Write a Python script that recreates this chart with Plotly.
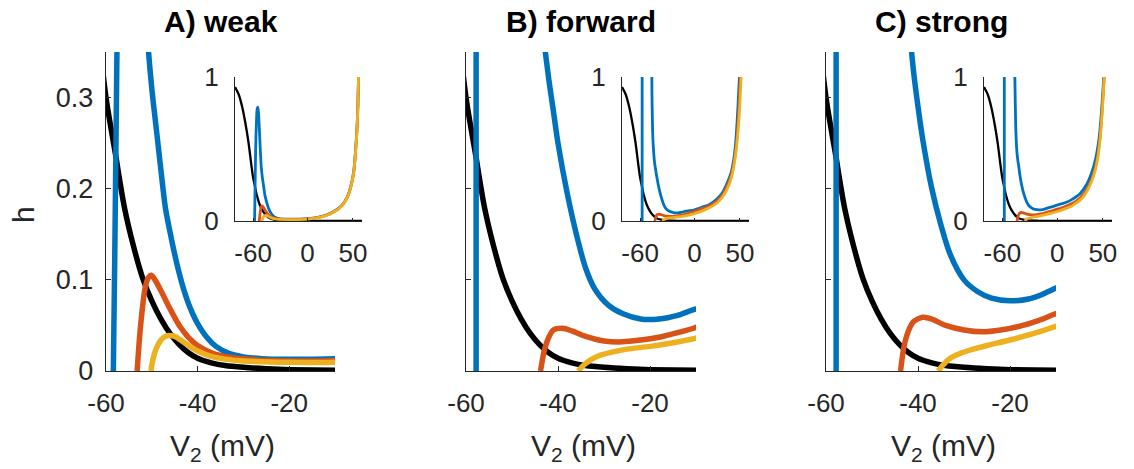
import plotly.graph_objects as go

# ---------------- data ----------------
# black curve (same in all panels)
V_black = [-80, -76, -72, -68, -65, -62, -60, -58, -56, -54, -52, -50, -48, -46, -44, -42,
           -40, -37, -34, -30, -25, -20, -10, 0, 20, 40, 60]
H_black = [0.93, 0.88, 0.79, 0.66, 0.54, 0.39, 0.300, 0.240, 0.180, 0.137, 0.102, 0.077,
           0.057, 0.041, 0.029, 0.020, 0.014, 0.009, 0.006, 0.004, 0.0025, 0.0015, 0.0008,
           0.0005, 0.0002, 0.0001, 0.0]

# Panel A (weak)
VA_blue = [-58.4, -58.1, -57.8, -57.5, -57.0, -56.3, -55.5, -54.8, -54.0, -53.0, -52.0, -51.0,
           -50.0, -49.0, -48.0, -47.0, -46.0, -45.0, -44.0, -43.0, -42.0, -41.0, -40.0, -38.0,
           -36.0, -33.0, -30.0, -26.0, -20.0, -15.0, -10.0, 0, 10, 20, 30, 38, 44, 48, 51, 53,
           54.5, 55.5, 56.2]
HA_blue = [0.0, 0.12, 0.26, 0.40, 0.56, 0.70, 0.78, 0.79, 0.74, 0.62, 0.48, 0.37,
           0.31, 0.265, 0.22, 0.178, 0.152, 0.128, 0.107, 0.089, 0.074, 0.062, 0.052, 0.037,
           0.027, 0.019, 0.0155, 0.0135, 0.0128, 0.013, 0.0135, 0.016, 0.024, 0.040, 0.070,
           0.110, 0.170, 0.250, 0.350, 0.500, 0.650, 0.820, 1.0]
VA_red = [-53.2, -52.7, -52.2, -51.5, -50.8, -50.1, -49.3, -48.0, -46.0, -44.0, -42.0, -40.0,
          -37.0, -33.0, -28.0, -20.0, -10.0, 0, 10, 20, 30, 38, 44, 48, 51, 53, 54.5,
          55.5, 56.2]
HA_red = [0.0, 0.035, 0.062, 0.090, 0.102, 0.105, 0.100, 0.088, 0.068, 0.050, 0.037, 0.028,
          0.020, 0.015, 0.0125, 0.011, 0.0115, 0.015, 0.023, 0.039, 0.068, 0.108, 0.168,
          0.245, 0.345, 0.49, 0.64, 0.81, 1.0]
VA_yel = [-50.2, -49.7, -49.0, -48.0, -47.0, -46.3, -45.0, -44.0, -42.0, -40.0, -37.0, -34.0,
          -30.0, -20.0, -10.0, 0, 10, 20, 30, 38, 44, 48, 51, 53, 54.5, 55.5, 56.2]
HA_yel = [0.0, 0.014, 0.025, 0.034, 0.038, 0.039, 0.038, 0.035, 0.028, 0.022, 0.016, 0.013,
          0.011, 0.0095, 0.0095, 0.013, 0.021, 0.037, 0.066, 0.106, 0.166, 0.243, 0.343,
          0.488, 0.638, 0.808, 1.0]

# Panel B (forward)
VB_blue_left = [-57.8, -57.8]
HB_blue_left = [0.0, 1.5]
VB_blue = [-47.3, -47.0, -46.5, -46.0, -45.0, -44.0, -43.0, -42.0, -41.0, -40.0, -38.0, -36.0,
           -34.0, -32.0, -29.0, -26.0, -22.0, -18.0, -14.0, -10.0, -5, 0, 5, 10, 15, 20, 25,
           30, 35, 40, 43, 45, 47, 48.5, 49.5]
HB_blue = [1.2, 0.90, 0.70, 0.58, 0.47, 0.40, 0.36, 0.32, 0.285, 0.25, 0.195, 0.15,
           0.113, 0.090, 0.072, 0.063, 0.057, 0.057, 0.061, 0.068, 0.072, 0.078, 0.088, 0.10,
           0.11, 0.13, 0.155, 0.19, 0.25, 0.33, 0.42, 0.52, 0.70, 0.88, 1.0]
VB_red = [-43.8, -43.0, -42.0, -41.0, -39.0, -37.0, -34.0, -30.0, -26.0, -22.0, -18.0, -14.0,
          -10.0, -5, 0, 5, 10, 15, 20, 25, 30, 35, 40, 43, 45, 47, 49, 50.5]
HB_red = [0.0, 0.022, 0.037, 0.045, 0.047, 0.044, 0.038, 0.033, 0.032, 0.034, 0.037, 0.042,
          0.048, 0.058, 0.068, 0.078, 0.090, 0.100, 0.118, 0.140, 0.175, 0.23, 0.31, 0.39,
          0.47, 0.60, 0.80, 1.0]
VB_yel = [-35.6, -34.5, -33.0, -31.0, -28.0, -25.0, -20.0, -15.0, -10.0, -5, 0, 5, 10, 15,
          20, 25, 30, 35, 40, 43, 46, 48, 50, 51.3]
HB_yel = [0.0, 0.006, 0.012, 0.017, 0.021, 0.024, 0.027, 0.031, 0.036, 0.043, 0.052, 0.062,
          0.074, 0.088, 0.105, 0.127, 0.16, 0.21, 0.29, 0.37, 0.50, 0.63, 0.82, 1.0]

# Panel C (strong)
VC_blue_left = [-57.8, -57.8]
HC_blue_left = [0.0, 1.5]
VC_blue = [-46.5, -46.0, -45.5, -45.0, -44.0, -43.0, -42.0, -41.0, -40.0, -39.0, -37.0, -35.0,
           -33.0, -30.0, -27.0, -24.0, -20.0, -16.0, -13.0, -10.0, -5, 0, 5, 10, 15, 20, 25,
           30, 35, 40, 43, 46, 48, 50, 51]
HC_blue = [1.1, 0.90, 0.72, 0.60, 0.48, 0.42, 0.38, 0.33, 0.29, 0.255, 0.20, 0.16,
           0.128, 0.100, 0.087, 0.080, 0.077, 0.079, 0.084, 0.091, 0.10, 0.11, 0.12, 0.13,
           0.145, 0.165, 0.19, 0.23, 0.29, 0.38, 0.46, 0.58, 0.72, 0.90, 1.0]
VC_red = [-43.8, -43.0, -42.0, -41.0, -39.0, -37.0, -34.0, -30.0, -26.0, -22.0, -18.0, -14.0,
          -10.0, -5, 0, 5, 10, 15, 20, 25, 30, 35, 40, 43, 46, 48, 50, 51.5]
HC_red = [0.0, 0.028, 0.045, 0.054, 0.059, 0.057, 0.050, 0.045, 0.043, 0.045, 0.049, 0.055,
          0.063, 0.072, 0.082, 0.092, 0.104, 0.118, 0.135, 0.16, 0.195, 0.25, 0.33, 0.41,
          0.53, 0.66, 0.85, 1.0]
VC_yel = [-35.6, -34.5, -33.0, -31.0, -28.0, -25.0, -20.0, -15.0, -10.0, -5, 0, 5, 10, 15,
          20, 25, 30, 35, 40, 43, 46, 48, 50, 51.5]
HC_yel = [0.0, 0.007, 0.014, 0.019, 0.024, 0.028, 0.034, 0.041, 0.049, 0.057, 0.066, 0.076,
          0.088, 0.10, 0.12, 0.145, 0.18, 0.235, 0.315, 0.39, 0.51, 0.64, 0.83, 1.0]

titles = ["A) weak", "B) forward", "C) strong"]
main_xticks = [-60, -40, -20]
main_yticks = [0, 0.1, 0.2, 0.3]
inset_xticks = [-60, 0, 50]
inset_yticks = [0, 1]

# ---------------- styling / layout ----------------
W, H = 1134, 469
BLUE, RED, YEL, BLK = "#0072BD", "#D95319", "#EDB120", "#000000"
FONT = "Liberation Sans, Arial, Helvetica, sans-serif"
AX = "#262626"

def dx(a, b):
    return [a / W, b / W]

def dy(top, bottom):
    return [1 - bottom / H, 1 - top / H]

main_x = [(106, 335), (466, 696), (826, 1056)]
inset_x = [(235, 362), (622, 749), (984, 1112)]
main_y = (52, 371)
inset_y = (77, 221)

panels = [
    dict(blue=[(VA_blue, HA_blue)], red=(VA_red, HA_red), yel=(VA_yel, HA_yel)),
    dict(blue=[(VB_blue_left, HB_blue_left), (VB_blue, HB_blue)], red=(VB_red, HB_red), yel=(VB_yel, HB_yel)),
    dict(blue=[(VC_blue_left, HC_blue_left), (VC_blue, HC_blue)], red=(VC_red, HC_red), yel=(VC_yel, HC_yel)),
]

fig = go.Figure()

def add_curves(p, xa, ya, wmain, wblack):
    common = dict(mode="lines", xaxis=xa, yaxis=ya, showlegend=False, hoverinfo="skip")
    fig.add_trace(go.Scatter(x=V_black, y=H_black, line=dict(color=BLK, width=wblack, shape="spline", smoothing=0.8), **common))
    for vx, hy in p["blue"]:
        fig.add_trace(go.Scatter(x=vx, y=hy, line=dict(color=BLUE, width=wmain, shape="spline", smoothing=0.8), **common))
    fig.add_trace(go.Scatter(x=p["red"][0], y=p["red"][1], line=dict(color=RED, width=wmain, shape="spline", smoothing=0.8), **common))
    fig.add_trace(go.Scatter(x=p["yel"][0], y=p["yel"][1], line=dict(color=YEL, width=wmain, shape="spline", smoothing=0.8), **common))

layout = dict(width=W, height=H, autosize=False, margin=dict(l=0, r=0, t=0, b=0, pad=0, autoexpand=False),
              paper_bgcolor="white", plot_bgcolor="rgba(0,0,0,0)", showlegend=False,
              font=dict(family=FONT, color=AX))

annotations = []
for i in range(3):
    k = i + 1
    ki = i + 4
    add_curves(panels[i], f"x{k}" if k > 1 else "x", f"y{k}" if k > 1 else "y", 5.5, 5.5)
    add_curves(panels[i], f"x{ki}", f"y{ki}", 2.8, 2.3)

    xs = "xaxis" if k == 1 else f"xaxis{k}"
    ys = "yaxis" if k == 1 else f"yaxis{k}"
    layout[xs] = dict(domain=dx(*main_x[i]), range=[-60, -10], anchor="y" if k == 1 else f"y{k}",
                      automargin=False,
                      showline=True, linecolor=AX, linewidth=1.4, mirror=False, showgrid=False,
                      zeroline=False, ticks="inside", ticklen=5, tickwidth=1, tickcolor=AX,
                      tickvals=main_xticks, ticktext=[str(t) for t in main_xticks],
                      tickfont=dict(size=26, family=FONT, color=AX), ticklabelstandoff=9)
    layout[ys] = dict(domain=dy(*main_y), range=[0, 0.35], anchor="x" if k == 1 else f"x{k}",
                      automargin=False,
                      showline=True, linecolor=AX, linewidth=1.4, mirror=False, showgrid=False,
                      zeroline=False, ticks="inside", ticklen=5, tickwidth=1, tickcolor=AX,
                      tickvals=main_yticks, ticktext=["0", "0.1", "0.2", "0.3"],
                      showticklabels=(k == 1),
                      tickfont=dict(size=27, family=FONT, color=AX), ticklabelstandoff=6)
    layout[f"xaxis{ki}"] = dict(domain=dx(*inset_x[i]), range=[-80, 60], anchor=f"y{ki}",
                                automargin=False,
                                showline=True, linecolor=AX, linewidth=1.2, mirror=False, showgrid=False,
                                zeroline=False, ticks="inside", ticklen=3, tickwidth=1, tickcolor=AX,
                                tickvals=inset_xticks, ticktext=[str(t) for t in inset_xticks],
                                tickfont=dict(size=26, family=FONT, color=AX), ticklabelstandoff=9)
    layout[f"yaxis{ki}"] = dict(domain=dy(*inset_y), range=[0, 1], anchor=f"x{ki}",
                                automargin=False,
                                showline=True, linecolor=AX, linewidth=1.2, mirror=False, showgrid=False,
                                zeroline=False, ticks="inside", ticklen=3, tickwidth=1, tickcolor=AX,
                                tickvals=inset_yticks, ticktext=["0", "1"],
                                tickfont=dict(size=26, family=FONT, color=AX), ticklabelstandoff=10)

    cx = (main_x[i][0] + main_x[i][1]) / 2 / W
    annotations.append(dict(text=f"<b>{titles[i]}</b>", x=cx, y=1 - 22 / H, xref="paper", yref="paper",
                            showarrow=False, xanchor="center", yanchor="middle",
                            font=dict(size=30, family=FONT, color="black")))
    annotations.append(dict(text="V<sub>2</sub> (mV)", x=cx + 2 / W, y=1 - 447 / H, xref="paper", yref="paper",
                            showarrow=False, xanchor="center", yanchor="middle",
                            font=dict(size=30, family=FONT, color=AX)))

annotations.append(dict(text="h", x=23 / W, y=1 - 215 / H, xref="paper", yref="paper", textangle=-90,
                        showarrow=False, xanchor="center", yanchor="middle",
                        font=dict(size=30, family=FONT, color=AX)))
layout["annotations"] = annotations

fig.update_layout(**layout)
fig.write_html("out.html")
